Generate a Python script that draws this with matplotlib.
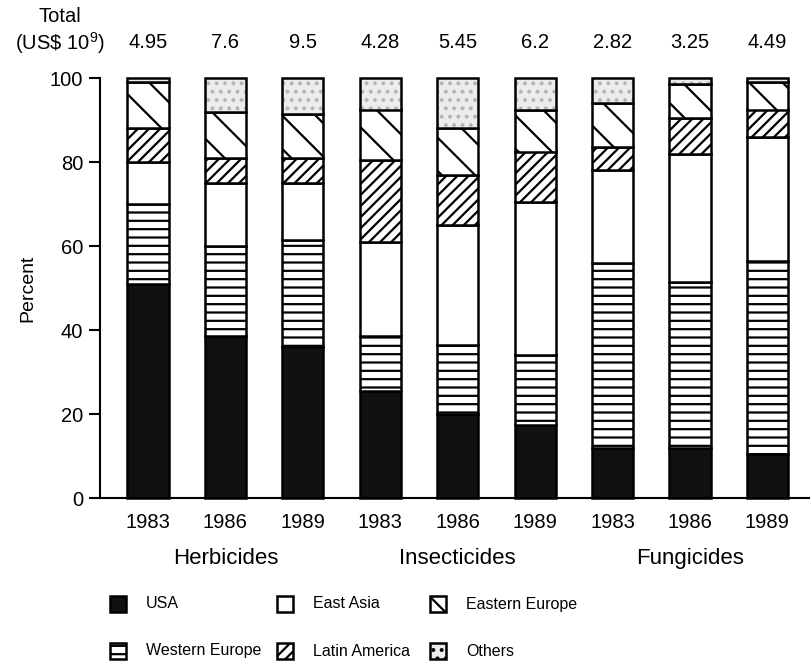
import numpy as np
import matplotlib
matplotlib.use('Agg')
import matplotlib.pyplot as plt
from matplotlib.patches import Rectangle

plt.rcParams['font.family'] = ['Liberation Sans', 'DejaVu Sans']
plt.rcParams['mathtext.fontset'] = 'custom'
plt.rcParams['mathtext.rm'] = 'Liberation Sans'
plt.rcParams['hatch.linewidth'] = 1.6

# data (percent shares)
years = ['1983', '1986', '1989'] * 3
groups = ['Herbicides', 'Insecticides', 'Fungicides']
totals = ['4.95', '7.6', '9.5', '4.28', '5.45', '6.2', '2.82', '3.25', '4.49']

usa = [51, 38.5, 36, 25.5, 20, 17.5, 12, 12, 10.5]
west_europe = [19, 21.5, 25.5, 13, 16.5, 16.5, 44, 39.5, 46]
east_asia = [10, 15, 13.5, 22.5, 28.5, 36.5, 22, 30.5, 29.5]
latin_america = [8, 6, 6, 19.5, 12, 12, 5.5, 8.5, 6.5]
east_europe = [11, 11, 10.5, 12, 11, 10, 10.5, 8, 6.5]
others = [1, 8, 8.5, 7.5, 12, 7.5, 6, 1.5, 1]

series = [
    ('USA', usa, dict(facecolor='#111111', hatch=None)),
    ('Western Europe', west_europe, dict(facecolor='white', hatch='--')),
    ('East Asia', east_asia, dict(facecolor='white', hatch=None)),
    ('Latin America', latin_america, dict(facecolor='white', hatch='///')),
    ('Eastern Europe', east_europe, dict(facecolor='white', hatch='\\')),
    ('Others', others, dict(facecolor='#ececec', hatch='..')),
]

W, H = 810, 664
fig = plt.figure(figsize=(W / 100, H / 100), dpi=100)


def fx(x):
    return x / W


def fy(y):
    return 1 - y / H


ax = fig.add_axes([fx(100), fy(498), fx(810) - fx(100), fy(78) - fy(498)])

x = np.arange(len(years))
width = 0.53
bottom = np.zeros(len(years))
for name, vals, st in series:
    vals = np.array(vals, dtype=float)
    if name == 'Others':
        ax.bar(x, vals, width, bottom=bottom, color=st['facecolor'],
               edgecolor='#b5b5b5', hatch=st['hatch'], linewidth=0,
               clip_on=False, zorder=2)
        ax.bar(x, vals, width, bottom=bottom, fill=False, edgecolor='black',
               linewidth=1.8, clip_on=False, zorder=3)
    else:
        ax.bar(x, vals, width, bottom=bottom, color=st['facecolor'],
               edgecolor='black', hatch=st['hatch'], linewidth=1.8,
               clip_on=False, zorder=2)
    bottom += vals

ax.set_xlim(-0.62, 8.55)
ax.set_ylim(0, 100)
ax.set_yticks([0, 20, 40, 60, 80, 100])
ax.tick_params(axis='y', labelsize=14.5, length=8, width=1.5, direction='out', pad=4)
ax.set_xticks([])
for s in ['top', 'right']:
    ax.spines[s].set_visible(False)
ax.spines['left'].set_linewidth(1.5)
ax.spines['bottom'].set_linewidth(1.5)
ax.set_ylabel('Percent', fontsize=14, labelpad=10)

# year labels, group labels and totals
for i, yr in enumerate(years):
    ax.text(i, -3.5, yr, ha='center', va='top', fontsize=14.5)
    ax.text(i, 108.5, totals[i], ha='center', va='center', fontsize=14.5)
for g, grp in enumerate(groups):
    ax.text(3 * g + 1, -12, grp, ha='center', va='top', fontsize=16)

fig.text(fx(60), fy(16), 'Total', ha='center', va='center', fontsize=14.5)
fig.text(fx(60), fy(43), r'(US\$ 10$^{9}$)', ha='center', va='center', fontsize=14.5)

# legend drawn by hand
legend_pos = [(110, 604), (110, 651), (277, 604), (277, 651), (430, 604), (430, 651)]
for k, (px, py) in enumerate(legend_pos):
    name, _, st = series[k]
    w, h = 16, 16
    r = Rectangle((fx(px), fy(py + h / 2)), fx(w), h / H,
                  transform=fig.transFigure, facecolor=st['facecolor'],
                  edgecolor='black', hatch=st['hatch'], linewidth=1.8)
    fig.add_artist(r)
    fig.text(fx(px + 36), fy(py), name, ha='left', va='center', fontsize=11.5)

fig.savefig('out.png', dpi=100)
